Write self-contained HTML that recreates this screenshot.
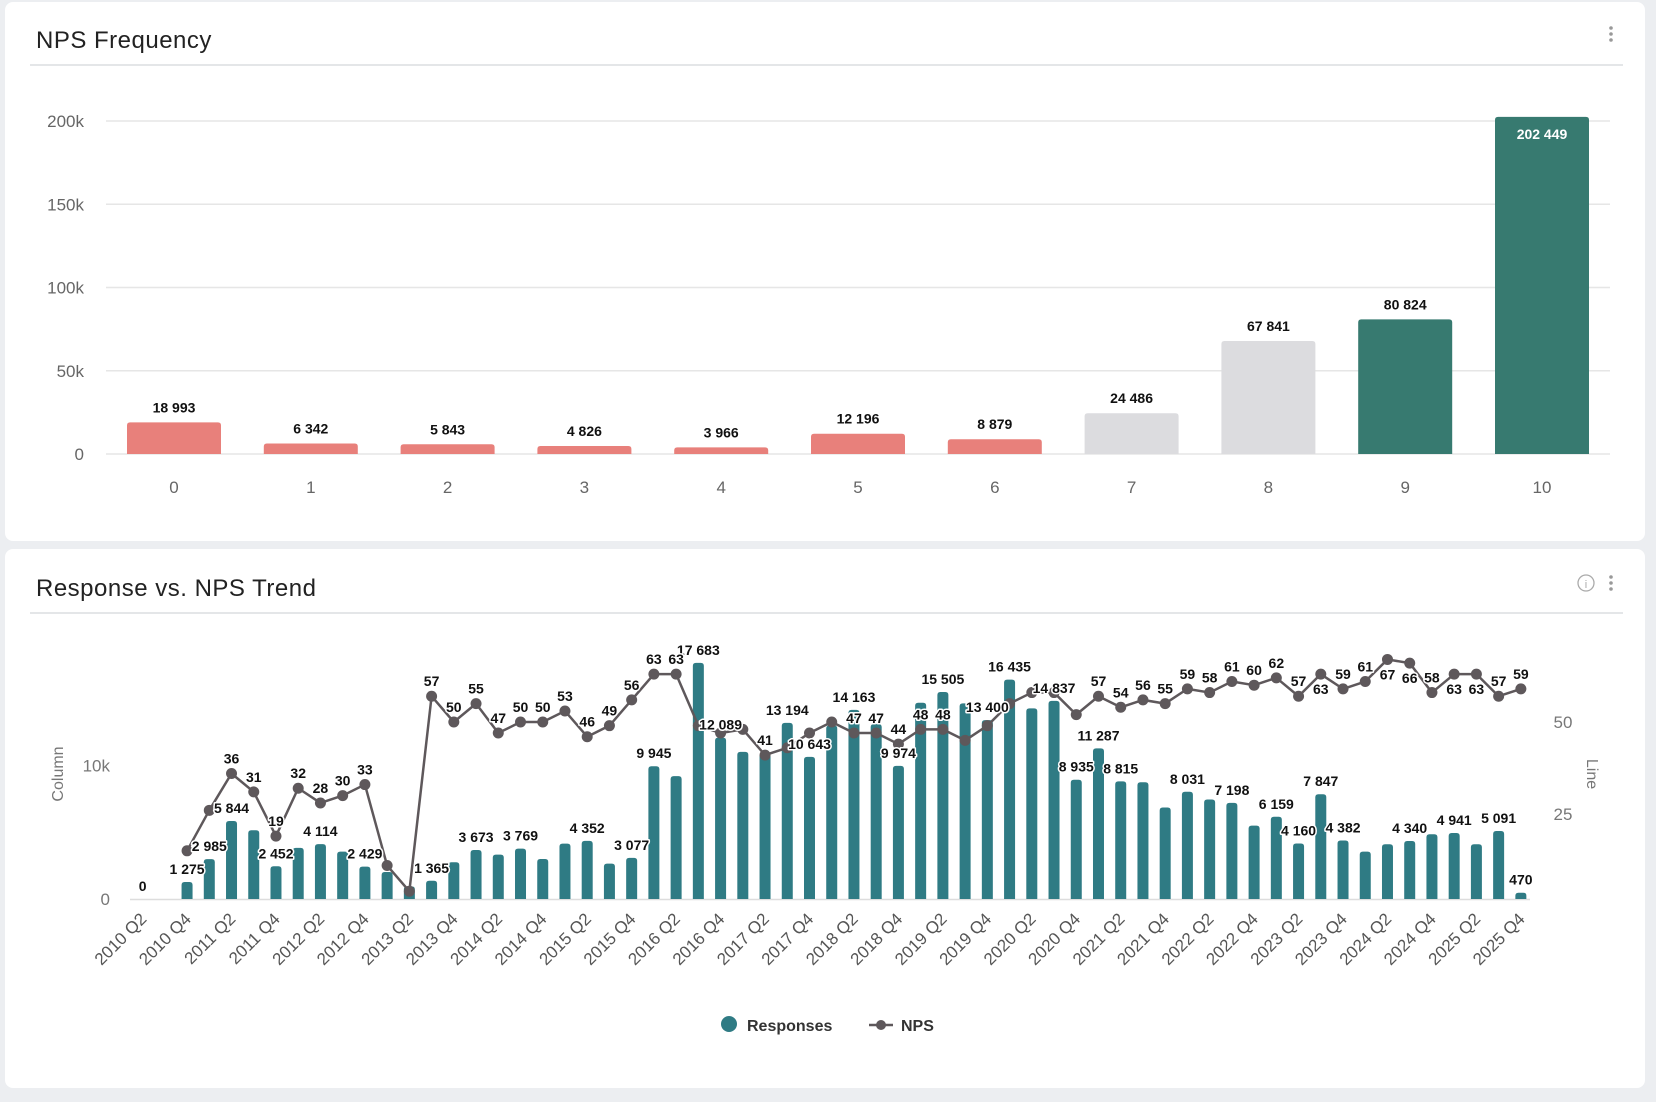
<!DOCTYPE html>
<html><head><meta charset="utf-8"><style>
html,body{margin:0;padding:0;background:#eceef1;width:1656px;height:1102px;overflow:hidden;font-family:"Liberation Sans",sans-serif}
svg text{font-family:"Liberation Sans",sans-serif}
.lbl{font-weight:bold;font-size:14px;fill:#111;paint-order:stroke;stroke:#fff;stroke-width:3px;stroke-linejoin:round}
</style></head><body>
<svg id="svg" width="1656" height="1102" xmlns="http://www.w3.org/2000/svg">
<rect x="5" y="2" width="1640" height="539" rx="8" fill="#fff"/>
<text x="36" y="48" font-size="24" fill="#222" letter-spacing="0.5">NPS Frequency</text>
<line x1="30" y1="65" x2="1623" y2="65" stroke="#e4e6e8" stroke-width="2"/>
<g fill="#999"><circle cx="1611" cy="28" r="1.8"/><circle cx="1611" cy="34" r="1.8"/><circle cx="1611" cy="40" r="1.8"/></g>
<g id="topChart"></g>
<rect x="5" y="549" width="1640" height="539" rx="8" fill="#fff"/>
<text x="36" y="596" font-size="24" fill="#222" letter-spacing="0.5">Response vs. NPS Trend</text>
<line x1="30" y1="613" x2="1623" y2="613" stroke="#e4e6e8" stroke-width="2"/>
<g><circle cx="1586" cy="583" r="8" fill="none" stroke="#aaa" stroke-width="1.3"/><text x="1586" y="588" font-size="11" fill="#aaa" text-anchor="middle">i</text></g>
<g fill="#999"><circle cx="1611" cy="577" r="1.8"/><circle cx="1611" cy="583" r="1.8"/><circle cx="1611" cy="589" r="1.8"/></g>
<g id="botChart"></g>
</svg>
<script>
// ---- Top chart data ----
const npsScores = ["0","1","2","3","4","5","6","7","8","9","10"];
const npsCounts = [18993,6342,5843,4826,3966,12196,8879,24486,67841,80824,202449];
const npsTicks = [0,50000,100000,150000,200000];
const npsTickLabels = ["0","50k","100k","150k","200k"];

// ---- Bottom chart data ----
const quarters = [];
for (let y=2010;y<=2025;y++) for (let q=1;q<=4;q++) if(!(y===2010&&q===1)) quarters.push(y+" Q"+q);
const responses = [0,null,1275,2985,5844,5150,2452,3825,4114,3550,2429,2025,950,1365,2750,3673,3325,3769,3000,4150,4352,2650,3077,9945,9200,17683,12089,11025,10900,13194,10643,13000,14163,13100,9974,14700,15505,14650,13400,16435,14275,14837,8935,11287,8815,8750,6850,8031,7450,7198,5500,6159,4160,7847,4382,3550,4100,4340,4850,4941,4100,5091,470];
const npsTrend = [null,null,15,26,36,31,19,32,28,30,33,11,4,57,50,55,47,50,50,53,46,49,56,63,63,49,47,48,41,43,47,50,47,47,44,48,48,45,49,55,58,58,52,57,54,56,55,59,58,61,60,62,57,63,59,61,67,66,58,63,63,57,59];
const respLabelIdx = [0,2,3,4,6,8,10,13,15,17,20,22,23,25,26,29,30,32,34,36,38,39,41,42,43,44,47,49,51,52,53,54,57,59,61,62];
const npsLabelIdx = [4,5,6,7,8,9,10,13,14,15,16,17,18,19,20,21,22,23,24,28,32,33,34,35,36,43,44,45,46,47,48,49,50,51,52,53,54,55,56,57,58,59,60,61,62];
const npsLabelBelowIdx = [53,56,57,59,60];
const leftTicks = [0,10000];
const leftTickLabels = ["0","10k"];
const rightTicks = [25,50];

const NS="http://www.w3.org/2000/svg";
function mk(parent,tag,attrs,text){const e=document.createElementNS(NS,tag);for(const k in attrs)e.setAttribute(k,attrs[k]);if(text!==undefined)e.textContent=text;parent.appendChild(e);return e;}
function fmt(v){return String(v).replace(/\B(?=(\d{3})+(?!\d))/g," ");}

// Top chart
const topG=document.getElementById('topChart');
const tY=v=>454-(v/200000)*333;
const tX=i=>174+i*136.8;
npsTicks.forEach((t,i)=>{
  const g=mk(topG,'line',{x1:106,x2:1610,y1:tY(t),y2:tY(t),stroke:'#e6e6e6','stroke-width':1.5});
  
  
  const l=mk(topG,'text',{x:84,y:tY(t)+6,'text-anchor':'end','font-size':17,fill:'#666'},npsTickLabels[i]);
  
  
});
npsCounts.forEach((v,i)=>{
  const c=i<=6?'#e8807b':(i<=8?'#dcdcdf':'#377a70');
  const b=mk(topG,'path',{d:`M${tX(i)-47},${tY(0)}V${tY(v)+3}q0,-3 3,-3h88q3,0 3,3V${tY(0)}Z`,fill:c});
  
  
  const inside=i===10;
  const l=mk(topG,'text',{x:tX(i),y:inside?tY(v)+22:tY(v)-10,'text-anchor':'middle','font-size':14,'font-weight':'bold',fill:inside?'#fff':'#111'},fmt(v));
  
  
  const x=mk(topG,'text',{x:tX(i),y:493,'text-anchor':'middle','font-size':17,fill:'#666'},npsScores[i]);
  
  
});

// Bottom chart
const botG=document.getElementById('botChart');
const bX=i=>142.6+i*22.23;
const bY=v=>899-v*0.01335;
const rY=v=>906-v*3.68;
const base=mk(botG,'line',{x1:130,x2:1530,y1:899.5,y2:899.5,stroke:'#ddd','stroke-width':1.5});


leftTicks.forEach((t,i)=>{
  const l=mk(botG,'text',{x:110,y:bY(t)+6,'text-anchor':'end','font-size':17,fill:'#777'},leftTickLabels[i]);
  
  
});
rightTicks.forEach(t=>{
  const l=mk(botG,'text',{x:1563,y:rY(t)+6,'text-anchor':'middle','font-size':17,fill:'#777'},String(t));
  
  
});
let a=mk(botG,'text',{x:0,y:0,'font-size':16,fill:'#777','text-anchor':'middle',transform:'translate(63,774) rotate(-90)'},'Column');


a=mk(botG,'text',{x:0,y:0,'font-size':16,fill:'#777','text-anchor':'middle',transform:'translate(1587,774) rotate(90)'},'Line');



responses.forEach((v,i)=>{
  if(v===null)return;
  const h=bY(0)-bY(v);
  if(h>0){
    const r=Math.min(3,h/2);
    const b=mk(botG,'path',{d:`M${bX(i)-5.5},899V${bY(v)+r}q0,-${r} ${r},-${r}h${11-2*r}q${r},0 ${r},${r}V899Z`,fill:'#2f7b84'});
    
    
  }
});
quarters.forEach((qq,i)=>{
  if(i%2!==0)return;
  const l=mk(botG,'text',{x:0,y:0,'font-size':17,fill:'#555','text-anchor':'end',transform:`translate(${bX(i)+5},920) rotate(-45)`},qq);
  
  
});
let d='';
npsTrend.forEach((v,i)=>{if(v===null)return;d+=(d?'L':'M')+bX(i)+','+rY(v);});
const line=mk(botG,'path',{d:d,fill:'none',stroke:'#5e585b','stroke-width':2.5,'stroke-linejoin':'round'});


npsTrend.forEach((v,i)=>{
  if(v===null)return;
  const c=mk(botG,'circle',{cx:bX(i),cy:rY(v),r:5.5,fill:'#5e585b'});
  
  
});
respLabelIdx.forEach(i=>{
  const v=responses[i];
  const l=mk(botG,'text',{x:bX(i),y:bY(v)-8,'text-anchor':'middle',class:'lbl'},fmt(v));
  
  
});
npsLabelIdx.forEach(i=>{
  const v=npsTrend[i];
  const down=npsLabelBelowIdx.includes(i);
  const l=mk(botG,'text',{x:bX(i),y:down?rY(v)+20:rY(v)-10,'text-anchor':'middle',class:'lbl'},String(v));
  
  
});
// legend
const lg=mk(botG,'g',{});


let e=mk(lg,'g',{});


mk(e,'circle',{cx:729,cy:1024,r:8,fill:'#2f7b84'});
mk(e,'text',{x:747,y:1031,'font-size':16,'font-weight':'bold',fill:'#333'},'Responses');
e=mk(lg,'g',{});


mk(e,'line',{x1:869,x2:893,y1:1025,y2:1025,stroke:'#5e585b','stroke-width':2.5});
mk(e,'circle',{cx:881,cy:1025,r:5,fill:'#5e585b'});
mk(e,'text',{x:901,y:1031,'font-size':16,'font-weight':'bold',fill:'#333'},'NPS');
</script>
</body></html>
